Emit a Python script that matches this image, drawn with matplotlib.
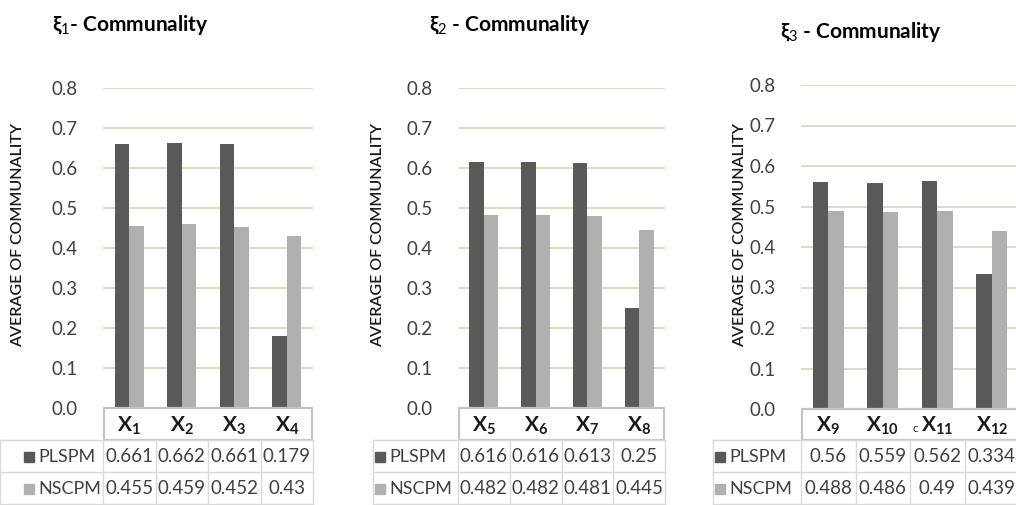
import matplotlib.pyplot as plt
from matplotlib.lines import Line2D
from matplotlib.patches import Rectangle

plt.rcParams["font.family"] = ["Lato", "DejaVu Sans"]
plt.rcParams["mathtext.fontset"] = "custom"
plt.rcParams["mathtext.rm"] = "Lato"
plt.rcParams["mathtext.bf"] = "Lato:bold"
plt.rcParams["mathtext.it"] = "Lato:italic"
plt.rcParams["mathtext.fallback"] = "stixsans"

W, H = 1016, 505

# data
series = ["PLSPM", "NSCPM"]
titles = ["ξ$_1$- Communality", "ξ$_2$ - Communality", "ξ$_3$ - Communality"]
indicators = [["1", "2", "3", "4"], ["5", "6", "7", "8"], ["9", "10", "11", "12"]]
plspm = [[0.661, 0.662, 0.661, 0.179],
         [0.616, 0.616, 0.613, 0.25],
         [0.56, 0.559, 0.562, 0.334]]
nscpm = [[0.455, 0.459, 0.452, 0.43],
         [0.482, 0.482, 0.481, 0.445],
         [0.488, 0.486, 0.49, 0.439]]
yticks = [0.0, 0.1, 0.2, 0.3, 0.4, 0.5, 0.6, 0.7, 0.8]

colors = ["#595959", "#b0b0b0"]
grid_color = "#ddd8c4"
cell_line = "#dadada"
box_line = "#c4c4c4"

# pixel layout of each panel
layout = [
    dict(left=103, right=313, top=88, bottom=408, line_left=0, key_x=24,
         title=(130, 25), ylabel_x=18),
    dict(left=458, right=665, top=88, bottom=408, line_left=373, key_x=375,
         title=(510, 25), ylabel_x=378),
    dict(left=801, right=1019, top=85, bottom=409, line_left=713, key_x=715,
         title=(861, 32), ylabel_x=740),
]
row_edges = [440, 472, 504]


def fx(x):
    return x / W


def fy(y):
    return 1 - y / H


fig = plt.figure(figsize=(W / 100, H / 100), dpi=100)

for k, lay in enumerate(layout):
    ax = fig.add_axes([fx(lay["left"]), fy(lay["bottom"]),
                       fx(lay["right"] - lay["left"]),
                       (lay["bottom"] - lay["top"]) / H])
    pos = list(range(len(indicators[k])))
    w = 0.28
    ax.bar([p - w / 2 for p in pos], plspm[k], width=w, color=colors[0], zorder=3)
    ax.bar([p + w / 2 for p in pos], nscpm[k], width=w, color=colors[1], zorder=3)
    ax.set_xlim(-0.5, len(pos) - 0.5)
    ax.set_ylim(0, 0.8)
    ax.set_yticks(yticks)
    ax.set_yticklabels([f"{t:.1f}" for t in yticks], fontsize=13.5, color="#404040")
    ax.tick_params(axis="y", length=0, pad=18)
    ax.set_xticks([])
    ax.grid(axis="y", color=grid_color, linewidth=1.3, zorder=0)
    for s in ax.spines.values():
        s.set_visible(False)
    ax.set_clip_on(False)

    fig.text(fx(lay["ylabel_x"]), fy(235), "AVERAGE OF COMMUNALITY", rotation=90,
             ha="center", va="center", fontsize=11.5, fontweight="semibold",
             color="#1a1a1a")
    fig.text(fx(lay["title"][0]), fy(lay["title"][1]), titles[k], ha="center",
             va="center", fontsize=15, fontweight="bold", color="#000000")

    # category header box
    left, right = lay["left"], lay["right"]
    step = (right - left) / len(pos)
    fig.add_artist(Rectangle((fx(left + 1), fy(row_edges[0])),
                             fx(right - left - 2), (row_edges[0] - lay["bottom"]) / H,
                             transform=fig.transFigure, fill=False,
                             edgecolor=box_line, linewidth=1.6))
    for i, lab in enumerate(indicators[k]):
        cx = left + step * (i + 0.5)
        fig.text(fx(cx), fy(426), r"$\mathbf{X_{%s}}$" % lab, ha="center",
                 va="center", fontsize=15, color="#1a1a1a")
    if k == 2:
        fig.text(fx(left + step * 2.5 - 22), fy(429), "c", ha="center",
                 va="center", fontsize=8, color="#1a1a1a")

    # data table rows
    for y in row_edges:
        fig.add_artist(Line2D([fx(lay["line_left"]), fx(right)], [fy(y), fy(y)],
                              color=cell_line, linewidth=1))
    for xv in [lay["line_left"]] + [left + step * i for i in range(len(pos) + 1)]:
        fig.add_artist(Line2D([fx(xv), fx(xv)], [fy(row_edges[0]), fy(H)],
                              color=cell_line, linewidth=1))
    for r, (name, vals) in enumerate(zip(series, [plspm[k], nscpm[k]])):
        cy = (row_edges[r] + row_edges[r + 1]) / 2 + 1
        fig.add_artist(Rectangle((fx(lay["key_x"]), fy(cy + 5)), fx(10), 10 / H,
                                 transform=fig.transFigure, color=colors[r]))
        fig.text(fx(lay["key_x"] + 14), fy(cy), name, ha="left", va="center",
                 fontsize=13, color="#404040")
        for i, v in enumerate(vals):
            fig.text(fx(left + step * (i + 0.5)), fy(cy), f"{v:g}", ha="center",
                     va="center", fontsize=13.5, color="#404040")

fig.savefig("out.png", dpi=100, facecolor="white")
